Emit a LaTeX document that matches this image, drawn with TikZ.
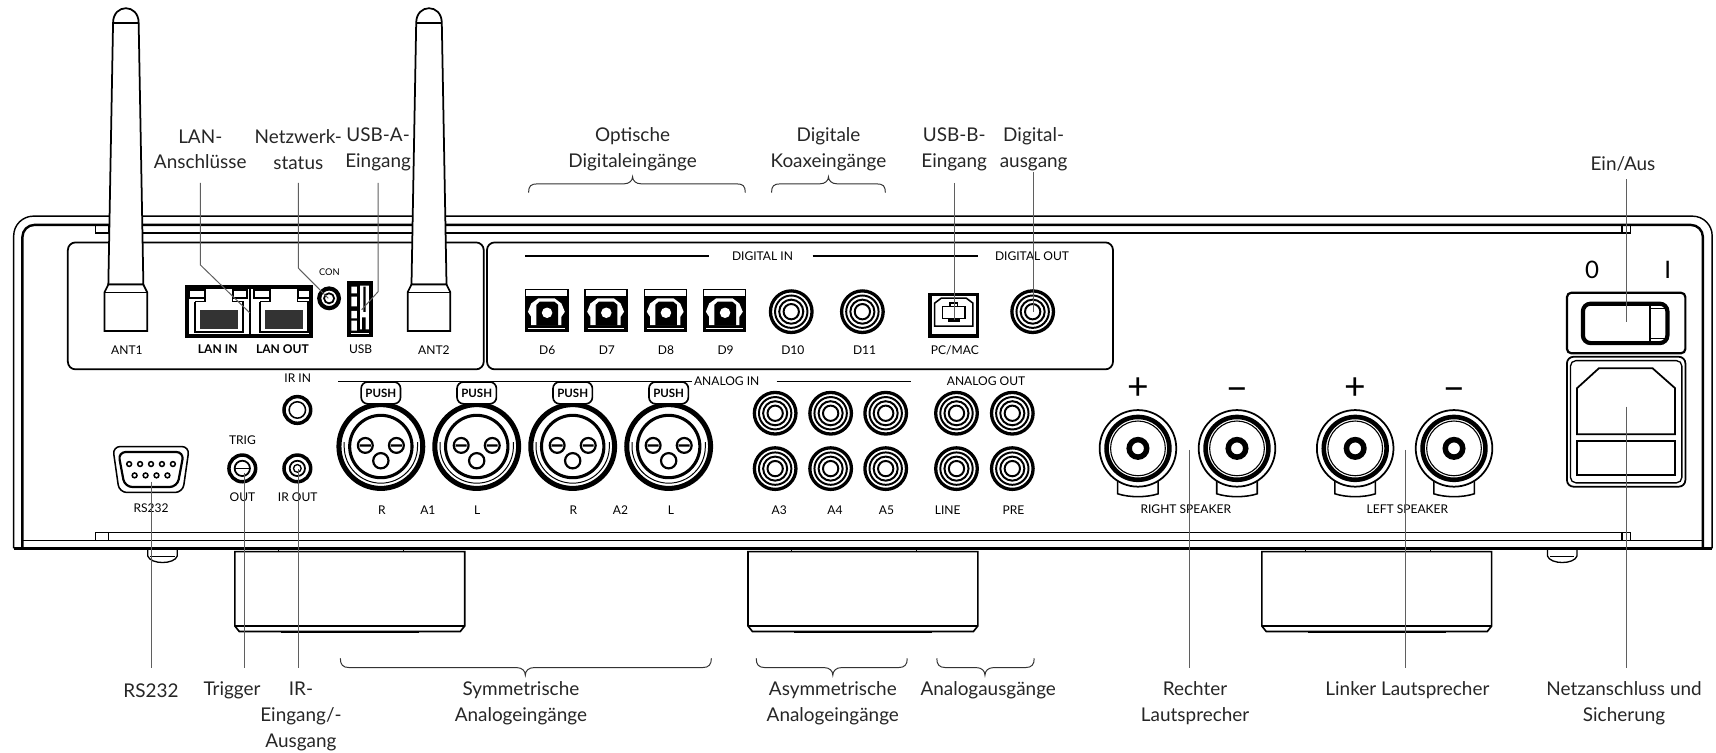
\documentclass[tikz,border=0pt]{standalone}
\usepackage{fontspec}
\setmainfont{Lato}
\definecolor{leadergray}{RGB}{95,95,95}
\tikzset{
  callout/.style={font=\fontsize{17.3}{23.5}\selectfont, align=center, inner sep=0pt, text=black!85},
  plate/.style={font=\fontsize{11}{12}\selectfont, inner sep=0pt},
  plateb/.style={font=\fontsize{11}{12}\bfseries\selectfont, inner sep=0pt},
  bigmark/.style={font=\fontsize{34}{36}\selectfont, inner sep=0pt},
  leader/.style={draw=leadergray, line width=0.9pt},
  bracegroup/.style={draw=black!80, line width=0.9pt},
  rcajack/.pic={
    \draw[fill=white, line width=3pt] (0,0) circle [radius=19];
    \draw[line width=1.8pt] (0,0) circle [radius=14.8];
    \draw[line width=1.8pt] (0,0) circle [radius=11];
    \draw[line width=1.8pt] (0,0) circle [radius=7];
  },
  xlrjack/.pic={
    \draw[fill=white, line width=4.6pt] (0,0) circle [radius=38.3];
    \draw[line width=2.8pt] (0,0) circle [radius=28.5];
    \draw[line width=0.9pt] (33.5,-4) -- ++(0,4) arc [start angle=0, end angle=180, radius=33.5] -- ++(0,-4);
    \draw[line width=2pt] (-14.2,-1) circle [radius=6.8] ++(-5,0) -- ++(10,0);
    \draw[line width=2pt] (14.2,-1) circle [radius=6.8] ++(-5,0) -- ++(10,0);
    \draw[line width=2pt] (0,13) circle [radius=7];
    \draw[fill=white, line width=1.5pt, rounded corners=6pt] (-18,-59) rectangle (18,-39);
    \node[font=\fontsize{10.5}{12}\bfseries\selectfont, inner sep=0pt] at (0,-49) {PUSH};
  },
  opticaljack/.pic={
    \draw[line width=1.2pt] (0,0) rectangle (38.5,38.5);
    \fill (0,6) rectangle (38.5,38.5);
    \draw[white, line width=0.8pt] (2.5,35.5) -- (36,35.5);
    \fill[white] (5,32.6) -- (5,25) -- (2,20.4) -- (5,12.8) -- (11.3,8.2) -- (26.5,8.2) -- (32.6,12.8) -- (35.7,20.4) -- (32.6,25) -- (32.6,32.6) -- cycle;
    \fill (7.5,33) -- (9.8,33) -- (9.8,14) -- (13,11) -- (26,11) -- (29.6,14) -- (29.6,33) -- cycle;
    \fill[white] (19.5,21.3) circle [radius=4.8];
  },
  lanjack/.pic={
    \draw[line width=1.8pt] (4,4.6) rectangle (18.4,12);
    \draw[line width=1.8pt] (44,4.6) rectangle (56.4,12);
    \draw[line width=1.3pt] (9,15.2) -- (9,43) -- (53,43) -- (53,15.2) -- (43.5,15.2) -- (43.5,5) (18.4,5) -- (18.4,15.2) -- (9,15.2);
    \fill[black!80] (13.8,23) rectangle (48.7,40);
  },
  speakerpost/.pic={
    \draw[line width=1.4pt] (-18.5,25) -- ++(0,16.5) .. controls (-8,45) and (8,45) .. (18.5,41.5) -- ++(0,-16.5);
    \draw[fill=white, line width=1.6pt] (0,0) circle [radius=35];
    \draw[line width=4.2pt] (0,0) circle [radius=28.7];
    \draw[line width=1pt] (0,0) circle [radius=25];
    \draw[line width=5pt] (0,0) circle [radius=8];
  },
  antenna/.pic={
    \draw[fill=white, line width=1.6pt] (-16,260) -- (-11.7,21) .. controls (-11.7,3) and (11.7,3) .. (11.7,21) -- (16,260) -- cycle;
    \draw[line width=1pt] (-11.7,21) -- (11.7,21);
    \draw[fill=white, line width=1.6pt] (-19.5,267) -- (-16,260) -- (16,260) -- (19.5,267) -- (19.5,302.5) -- (-19.5,302.5) -- cycle;
    \draw[line width=1pt] (-19.5,267) -- (19.5,267);
  },
  cabinetfoot/.pic={
    \draw[line width=0.9pt] (40,0) -- ++(0,-4) -- ++(114,0) -- ++(0,4);
    \draw[fill=white, line width=1.5pt] (0,0) -- (210,0) -- (210,68) -- (206,73) -- (4,73) -- (0,68) -- cycle;
    \draw[line width=2.2pt] (0,68) -- (210,68);
    \draw[line width=2.4pt] (42,73.5) -- (168,73.5);
  },
  bumper/.pic={
    \draw[line width=1.2pt] (-13.5,0) -- ++(0,7) .. controls (-11,15) and (11,15) .. (13.5,7) -- ++(0,-7);
    \draw[line width=0.7pt] (-11,7) -- (11,7);
  }
}
\begin{document}
\begin{tikzpicture}[x=1pt, y=-1pt]
\useasboundingbox (0,0) rectangle (1568,688);

\draw[line width=1.3pt, rounded corners=18pt] (12.5,501) -- (12.5,197.5) -- (1564.5,197.5) -- (1564.5,501);
\draw[line width=2.2pt, rounded corners=11pt] (20.5,501) -- (20.5,205.5) -- (1556,205.5) -- (1556,501);
\draw[line width=1.2pt] (87,213) -- (1490,213) (87,205.5) rectangle (99,213) (1482,205.5) rectangle (1490,213);
\draw[line width=1.2pt] (87,486.5) -- (1490,486.5) (87,486.5) rectangle (99,494) (1482,486.5) rectangle (1490,494);
\draw[line width=1.2pt] (20.5,494) -- (1556,494);
\draw[line width=2.6pt] (12.5,501) -- (1564.5,501);

\foreach \xpos in {214.6, 683.5, 1153} \pic at (\xpos,504) {cabinetfoot};
\foreach \xpos in {148.5, 1427.5} \pic at (\xpos,501) {bumper};

\draw[line width=1.6pt, rounded corners=7pt] (62,221.5) rectangle (442,337.5);
\draw[line width=1.6pt, rounded corners=7pt] (445,221.5) rectangle (1017,337.5);

\pic at (115,0) {antenna};
\pic at (392,0) {antenna};

\draw[line width=3.6pt] (170.8,262.2) rectangle (284,307);
\draw[line width=2.4pt] (228.4,262) -- (228.4,307);
\pic at (169,260.4) {lanjack};
\pic at (228.4,260.4) {lanjack};
\draw[line width=3.8pt] (300.7,272.6) circle [radius=9];
\draw[line width=1.6pt] (300.7,272.6) circle [radius=4.6];
\fill (316.7,256.8) rectangle (341,307.6);
\fill[white] (321,262) rectangle (326,268) (321,271) rectangle (326,280) (321,284) rectangle (326,291) (321,293) rectangle (326,302) (329,261) rectangle (337,301);
\fill (332,262) rectangle (334,285) (331,290) rectangle (334,302);
\draw[white, line width=0.8pt] (321,304.5) -- (337,304.5);

\draw[line width=1.2pt] (480,234) -- (648,234);
\draw[line width=1.2pt] (742.5,234) -- (894,234);
\foreach \xpos in {480.4, 534.5, 589, 643} \pic at (\xpos,264.5) {opticaljack};
\foreach \xpos in {723, 788, 943.6} \pic at (\xpos,284.8) {rcajack};
\draw[line width=3.4pt] (849.7,269.2) rectangle (893.3,307.3);
\draw[line width=1.4pt] (854,277) -- (854,298) -- (889,298) -- (889,277) -- (883,272.5) -- (860,272.5) -- cycle;
\draw[line width=1.4pt] (861,280) rectangle (882,291) (868,280) -- (868,277) -- (875,277) -- (875,280);
\fill (866,291) rectangle (877,294);

\draw[line width=1.2pt] (309,348.7) -- (632,348.7);
\draw[line width=1.2pt] (709.7,348.7) -- (832,348.7);
\foreach \xpos in {348, 435.6, 523.3, 611} \pic at (\xpos,408) {xlrjack};
\foreach \xpos in {708.3, 759, 809.3, 874, 925} {
  \pic at (\xpos,377.6) {rcajack};
  \pic at (\xpos,428.2) {rcajack};
}
\draw[line width=3.2pt] (271.7,374.6) circle [radius=12.2];
\draw[line width=1.4pt] (271.7,374.6) circle [radius=7.5];
\draw[line width=3.2pt] (221.4,428) circle [radius=12.2] (271.7,428) circle [radius=12.2];
\draw[line width=1.6pt] (221.4,428) circle [radius=7] (271.7,428) circle [radius=7];
\draw[line width=1.2pt] (214.4,428) -- (228.4,428);
\draw[line width=1.2pt] (271.7,428) circle [radius=3.5];

\draw[line width=1.4pt, rounded corners=7pt] (103,408) -- (173,408) -- (167,450) -- (109,450) -- cycle;
\draw[line width=2pt, rounded corners=7pt] (108,413) -- (168,413) -- (162,445) -- (114,445) -- cycle;
\foreach \xpos in {118,128,138,148,158} \draw[line width=1.4pt] (\xpos,424) circle [radius=2.2];
\foreach \xpos in {123,133,143,153} \draw[line width=1.4pt] (\xpos,434.4) circle [radius=2.2];

\foreach \xpos in {1039.8, 1130.3, 1238.3, 1328.6} \pic at (\xpos,409.7) {speakerpost};

\draw[line width=2pt, rounded corners=4pt] (1431.8,267.5) rectangle (1540,322.8);
\draw[line width=3.8pt, rounded corners=7pt] (1446.4,277.5) rectangle (1523.6,313.5);
\draw[line width=2pt] (1507.7,276) -- (1507.7,315);
\draw[line width=1pt] (1507.7,281.5) -- (1521,281.5) (1507.7,309.5) -- (1521,309.5);
\draw[line width=1.6pt, rounded corners=6pt] (1431.8,326) rectangle (1540,444.7);
\draw[line width=1.2pt, rounded corners=5pt] (1435,329.5) rectangle (1536.8,441.2);
\draw[line width=1.6pt] (1441,396.7) -- (1441,354.7) -- (1461,336.5) -- (1510,336.5) -- (1530.6,354.7) -- (1530.6,396.7) -- cycle;
\draw[line width=1.6pt] (1441,402.7) rectangle (1530.6,434.3);

\node[plate] (ant1) at (116,320) {ANT1};
\node[plateb] (lanin) at (199,319) {LAN IN};
\node[plateb] (lanout) at (258,319) {LAN OUT};
\node[plate, font=\fontsize{8.5}{10}\selectfont] (con) at (301,249) {CON};
\node[plate] (usb) at (329.5,319) {USB};
\node[plate] (ant2) at (396.5,320) {ANT2};
\node[plate] (digitalin) at (696.7,234) {DIGITAL IN};
\node[plate] (digitalout) at (943,234) {DIGITAL OUT};
\foreach \xpos/\name in {500/D6, 554.5/D7, 608.5/D8, 663/D9, 724.5/D10, 790/D11}
  \node[plate] (\name) at (\xpos,320) {\name};
\node[plate] (pcmac) at (872.5,320) {PC/MAC};
\node[plate] (analogin) at (664,348) {ANALOG IN};
\node[plate] (analogout) at (901,348) {ANALOG OUT};
\node[plate] (irin) at (272,346) {IR IN};
\node[plate] (trig) at (221.5,402) {TRIG};
\node[plate] (trigout) at (221.5,454) {OUT};
\node[plate] (irout) at (272,454) {IR OUT};
\node[plate] (rsplate) at (138,464) {RS232};
\foreach \xpos/\name/\id in {349/R/a, 391/A1/b, 436/L/c, 524/R/d, 567/A2/e, 613/L/f, 712/A3/g, 763/A4/h, 810/A5/i, 866/LINE/j, 926/PRE/k}
  \node[plate] (in\id) at (\xpos,466) {\name};
\node[plate] (rightspk) at (1083.5,465) {RIGHT SPEAKER};
\node[plate] (leftspk) at (1286,465) {LEFT SPEAKER};
\foreach \xpos/\ypos/\name/\id in {1039.8/355/+/a, 1130.3/361/−/b, 1238.3/355/+/c, 1328.6/361/−/d}
  \node[bigmark] (pole\id) at (\xpos,\ypos) {\name};
\node[bigmark, font=\fontsize{22}{24}\selectfont] (swoff) at (1454.7,247) {0};
\node[bigmark, font=\fontsize{22}{24}\selectfont] (swon) at (1524,247) {I};

\node[callout] (lanlabel) at (183,136.5) {LAN-\\Anschlüsse};
\node[callout] (netlabel) at (272.6,136.5) {Netzwerk-\\status};
\node[callout] (usbalabel) at (345.5,136.5) {USB-A-\\Eingang};
\node[callout] (optlabel) at (578,136.5) {Optische\\Digitaleingänge};
\node[callout] (coaxlabel) at (757,136.5) {Digitale\\Koaxeingänge};
\node[callout] (usbblabel) at (871.9,136.5) {USB-B-\\Eingang};
\node[callout] (digoutlabel) at (944.5,136.5) {Digital-\\ausgang};
\node[callout] (powerlabel) at (1483,150) {Ein/Aus};
\node[callout] (rslabel) at (138,631) {RS232};
\node[callout] (triglabel) at (212,631) {Trigger};
\node[callout, anchor=north] (irlabel) at (275,623) {IR-\\Eingang/-\\Ausgang};
\node[callout, anchor=north] (symlabel) at (476,623) {Symmetrische\\Analogeingänge};
\node[callout, anchor=north] (asymlabel) at (761,623) {Asymmetrische\\Analogeingänge};
\node[callout] (outlabel) at (903,631) {Analogausgänge};
\node[callout, anchor=north] (rightlabel) at (1092,623) {Rechter\\Lautsprecher};
\node[callout] (leftlabel) at (1286,631) {Linker Lautsprecher};
\node[callout, anchor=north] (mainslabel) at (1484,623) {Netzanschluss und\\Sicherung};

\foreach \xa/\xm/\xb in {483/578/681, 705/757/809}
  \draw[bracegroup] (\xa,176) .. controls (\xa,170) and (\xa+2,168) .. (\xa+8,168) -- (\xm-8,168) .. controls (\xm-3,168) and (\xm,165) .. (\xm,161.5) .. controls (\xm,165) and (\xm+3,168) .. (\xm+8,168) -- (\xb-8,168) .. controls (\xb-2,168) and (\xb,170) .. (\xb,176);
\foreach \xa/\xm/\xb in {311/480/650, 691/761/829, 856/900/945}
  \draw[bracegroup] (\xa,601.5) .. controls (\xa,607) and (\xa+2,610) .. (\xa+8,610) -- (\xm-8,610) .. controls (\xm-3,610) and (\xm,613) .. (\xm,617) .. controls (\xm,613) and (\xm+3,610) .. (\xm+8,610) -- (\xb-8,610) .. controls (\xb-2,610) and (\xb,607) .. (\xb,601.5);

\coordinate (lanport) at (228.4,286);
\coordinate (conport) at (300,272.6);
\coordinate (usbaport) at (330.5,283);
\coordinate (usbbport) at (871.9,292);
\coordinate (digoutport) at (944,285);
\coordinate (switchport) at (1486,294);
\coordinate (rsport) at (138,440);
\coordinate (trigport) at (223,432);
\coordinate (irport) at (272.6,429);
\coordinate (rightport) at (1087,411);
\coordinate (leftport) at (1284,411);
\coordinate (mainsport) at (1486,371.6);

\draw[leader] (lanlabel) ++(0,30.5) -- ++(0,75) -- (lanport);
\draw[leader] (netlabel) ++(0,30.5) -- ++(0,78) -- (conport);
\draw[leader] (usbalabel) ++(0,30.5) -- ++(0,99.5) -- (usbaport);
\draw[leader] (usbblabel) ++(0,30.5) -- (usbbport);
\draw[leader] (digoutlabel) ++(-0.5,20.5) -- (digoutport);
\draw[leader] (powerlabel.south -| switchport) ++(0,7) -- (switchport);
\draw[leader] (rsport) -- ++(0,170);
\draw[leader] (trigport) -- ++(0,178);
\draw[leader] (irport) -- ++(0,181);
\draw[leader] (rightport) -- ++(0,199);
\draw[leader] (leftport) -- ++(0,199);
\draw[leader] (mainsport) -- ++(0,238.4);
\end{tikzpicture}
\end{document}
